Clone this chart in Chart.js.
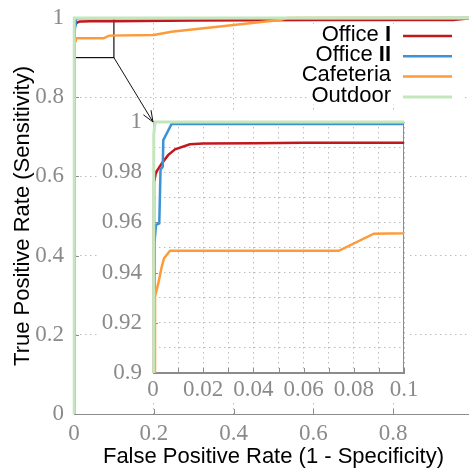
<!DOCTYPE html>
<html>
<head>
<meta charset="utf-8">
<script src="https://cdn.jsdelivr.net/npm/chart.js@4.4.1/dist/chart.umd.min.js"></script>
<style>
  html, body { margin: 0; padding: 0; background: #fff; overflow: hidden; }
  #wrap { position: relative; width: 469px; height: 468px; overflow: hidden; }
  #roc-main { position: absolute; left: 0; top: 0; }
  #roc-inset { position: absolute; left: 97px; top: 110px; }
</style>
</head>
<body>
<div id="wrap">
  <canvas id="roc-main" width="480" height="468"></canvas>
  <canvas id="roc-inset" width="330" height="290"></canvas>
</div>
<script>
// ROC curves, one (fpr, tpr) pair of arrays per environment
const seriesNames = ['Office I', 'Office II', 'Cafeteria', 'Outdoor'];
const seriesColors = ['#c1181e', '#3b93d6', '#fd9b3a', '#c3e6bc'];

const office1Fpr = [0, 0.0004, 0.0012, 0.0035, 0.0061, 0.0088, 0.0147, 0.02, 0.04, 0.06, 0.1, 0.3, 0.6, 0.95, 1];
const office1Tpr = [0, 0.976, 0.980, 0.9835, 0.9869, 0.9891, 0.9911, 0.9914, 0.9915, 0.9917, 0.9917, 0.994, 0.995, 0.995, 1];

const office2Fpr = [0, 0.0006, 0.0012, 0.0025, 0.003, 0.0039, 0.0041, 0.0074, 0.1, 0.5, 1];
const office2Tpr = [0, 0.952, 0.959, 0.9596, 0.981, 0.9822, 0.9928, 0.9992, 0.9992, 0.9995, 1];

const cafeteriaFpr = [0, 0.0008, 0.0008, 0.0021, 0.0035, 0.0044, 0.0068, 0.074, 0.088, 0.2, 0.244, 0.516, 0.535, 1];
const cafeteriaTpr = [0, 0.9, 0.9304, 0.9357, 0.9424, 0.9457, 0.9487, 0.9487, 0.9555, 0.957, 0.965, 0.995, 1, 1];

const outdoorFpr = [0, 0.0003, 0.0008, 1];
const outdoorTpr = [0, 0.995, 1, 1];

const fprs = [office1Fpr, office2Fpr, cafeteriaFpr, outdoorFpr];
const tprs = [office1Tpr, office2Tpr, cafeteriaTpr, outdoorTpr];

// zoomed region shown in the inset
const insetXMin = 0, insetXMax = 0.1;
const insetYMin = 0.9, insetYMax = 1;

const INSET_LEFT = 97, INSET_TOP = 110;

const tickColor = '#8a8a8a';
const axisColor = '#8c8c8c';
const gridColor = '#bdbdbd';
const tickFont = { family: '"Liberation Serif", "Times New Roman", serif', size: 23 };
const sansFamily = '"Liberation Sans", Arial, sans-serif';

let mainChart = null, insetChart = null;

function makeDatasets() {
  return seriesNames.map((name, i) => ({
    label: name,
    data: fprs[i].map((x, k) => ({ x: x, y: tprs[i][k] })),
    borderColor: seriesColors[i],
    borderWidth: i === 3 ? 3 : 2.5,
    pointRadius: 0,
    tension: 0,
    order: 4 - i,
    clip: { left: 3, top: 3, right: 0, bottom: 0 }
  }));
}

function fmt(v) { return +v.toFixed(2); }

// arrow from the zoom box to the inset, drawn on whichever canvas (ox, oy = canvas offset)
function drawZoomArrow(ctx, ox, oy) {
  if (!mainChart || !insetChart) return;
  const mx = mainChart.scales.x, my = mainChart.scales.y;
  const x1 = mx.getPixelForValue(insetXMax) - ox, y1 = my.getPixelForValue(insetYMin) - oy;
  const x2 = INSET_LEFT + insetChart.chartArea.left - ox, y2 = INSET_TOP + insetChart.chartArea.top - oy;
  const ang = Math.atan2(y2 - y1, x2 - x1);
  const head = 12, spread = 0.38;
  ctx.save();
  ctx.strokeStyle = '#111';
  ctx.lineWidth = 1;
  ctx.beginPath();
  ctx.moveTo(x1, y1); ctx.lineTo(x2, y2);
  ctx.moveTo(x2, y2); ctx.lineTo(x2 - head * Math.cos(ang - spread), y2 - head * Math.sin(ang - spread));
  ctx.moveTo(x2, y2); ctx.lineTo(x2 - head * Math.cos(ang + spread), y2 - head * Math.sin(ang + spread));
  ctx.stroke();
  ctx.restore();
}

// small inward tick marks + optional frame
const axisDecor = {
  id: 'axisDecor',
  beforeDatasetsDraw(chart, args, opts) {
    const { ctx, chartArea: a, scales: { x, y } } = chart;
    ctx.save();
    ctx.strokeStyle = axisColor;
    ctx.lineWidth = 1;
    if (opts.frame) {
      ctx.strokeRect(Math.round(a.left) + 0.5, Math.round(a.top) + 0.5,
        Math.round(a.right - a.left) - 1, Math.round(a.bottom - a.top) - 1);
    }
    ctx.beginPath();
    x.ticks.forEach((t, i) => {
      if (!opts.allX && t.label === '') return;
      const px = Math.round(x.getPixelForTick(i)) + 0.5;
      ctx.moveTo(px, a.bottom); ctx.lineTo(px, a.bottom - 5);
    });
    y.ticks.forEach((t, i) => {
      if (t.label === '') return;
      const py = Math.round(y.getPixelForTick(i)) + 0.5;
      ctx.moveTo(a.left, py); ctx.lineTo(a.left + 5, py);
    });
    ctx.stroke();
    ctx.restore();
  }
};

// zoom rectangle, arrow and legend on the main plot
const mainDecor = {
  id: 'mainDecor',
  beforeDatasetsDraw(chart) {
    const { ctx, scales: { x, y } } = chart;
    const l = x.getPixelForValue(insetXMin), r = x.getPixelForValue(insetXMax);
    const t = y.getPixelForValue(insetYMax), b = y.getPixelForValue(insetYMin);
    ctx.save();
    ctx.strokeStyle = '#111';
    ctx.lineWidth = 1.2;
    ctx.strokeRect(l, t, r - l, b - t);
    ctx.restore();
    drawZoomArrow(ctx, 0, 0);
  },
  afterDraw(chart) {
    const ctx = chart.ctx;
    ctx.save();
    ctx.fillStyle = '#fff';
    ctx.fillRect(307, 24, 155, 80);
    const textRight = 391, lineL = 403, lineR = 452;
    seriesNames.forEach((name, i) => {
      const base = 40.7 + i * 20.3;
      const m = name.match(/^(.*\s)([IVX]+)$/);
      ctx.fillStyle = '#000';
      ctx.textAlign = 'right';
      ctx.textBaseline = 'alphabetic';
      if (m) {
        ctx.font = 'bold 22px ' + sansFamily;
        ctx.fillText(m[2], textRight, base);
        const w = ctx.measureText(m[2]).width;
        ctx.font = '22px ' + sansFamily;
        ctx.fillText(m[1], textRight - w, base);
      } else {
        ctx.font = '22px ' + sansFamily;
        ctx.fillText(name, textRight, base);
      }
      ctx.strokeStyle = seriesColors[i];
      ctx.lineWidth = i === 3 ? 3 : 2.5;
      ctx.beginPath();
      ctx.moveTo(lineL, base - 4.7);
      ctx.lineTo(lineR, base - 4.7);
      ctx.stroke();
    });
    ctx.restore();
  }
};

// inset: white backing and the part of the arrow that falls on its canvas
const insetDecor = {
  id: 'insetDecor',
  beforeDraw(chart) {
    const { ctx, chartArea: a } = chart;
    ctx.save();
    ctx.fillStyle = '#fff';
    ctx.fillRect(0, 0, a.right + 4, chart.height);
    ctx.restore();
  },
  afterDraw(chart) {
    drawZoomArrow(chart.ctx, INSET_LEFT, INSET_TOP);
  }
};

function axis(opts) {
  return {
    type: 'linear',
    min: opts.min, max: opts.max,
    afterFit: opts.afterFit,
    ticks: {
      stepSize: opts.step, padding: opts.pad, color: tickColor, font: tickFont,
      autoSkip: false, maxRotation: 0, callback: opts.callback
    },
    grid: { color: gridColor, lineWidth: 1, drawTicks: false },
    border: { color: axisColor, width: 1, dash: [1.5, 3.5] },
    title: opts.title || { display: false }
  };
}

insetChart = new Chart(document.getElementById('roc-inset'), {
  type: 'line',
  data: { datasets: makeDatasets() },
  options: {
    responsive: false,
    animation: false,
    events: [],
    layout: { padding: { top: 12, right: 23, left: 0, bottom: 0 } },
    plugins: { legend: { display: false }, tooltip: { enabled: false }, axisDecor: { frame: true, allX: true } },
    scales: {
      x: axis({
        min: insetXMin, max: insetXMax, step: 0.01, pad: 3,
        callback: (v, i) => i % 2 === 0 ? fmt(v) : '',
        afterFit: s => { s.height = 27; s.paddingLeft = 0; s.paddingRight = 0; }
      }),
      y: axis({
        min: insetYMin, max: insetYMax, step: 0.01, pad: 11,
        callback: (v, i) => i % 2 === 0 ? fmt(v) : '',
        afterFit: s => { s.width = 56; s.paddingTop = 0; s.paddingBottom = 0; }
      })
    }
  },
  plugins: [insetDecor, axisDecor]
});

mainChart = new Chart(document.getElementById('roc-main'), {
  type: 'line',
  data: { datasets: makeDatasets() },
  options: {
    responsive: false,
    animation: false,
    events: [],
    layout: { padding: { top: 18, right: 7, left: 0, bottom: 0 } },
    plugins: { legend: { display: false }, tooltip: { enabled: false }, axisDecor: { frame: false, allX: false } },
    scales: {
      x: axis({
        min: 0, max: 1, step: 0.2, pad: 6,
        callback: v => fmt(v),
        afterFit: s => { s.height = 54; s.paddingLeft = 0; s.paddingRight = 0; },
        title: {
          display: true, text: 'False Positive Rate (1 - Specificity)', color: '#000',
          font: { family: sansFamily, size: 22, lineHeight: 1 }, padding: 0
        }
      }),
      y: axis({
        min: 0, max: 1, step: 0.2, pad: 10,
        callback: v => fmt(v),
        afterFit: s => { s.width = 74; s.paddingTop = 0; s.paddingBottom = 0; },
        title: {
          display: true, text: 'True Positive Rate (Sensitivity)', color: '#000',
          font: { family: sansFamily, size: 22, lineHeight: 1.2 }, padding: { top: 10, bottom: 0 }
        }
      })
    }
  },
  plugins: [mainDecor, axisDecor]
});

// both charts exist now: redraw so the arrow appears on each canvas
mainChart.draw();
insetChart.draw();
</script>
</body>
</html>
